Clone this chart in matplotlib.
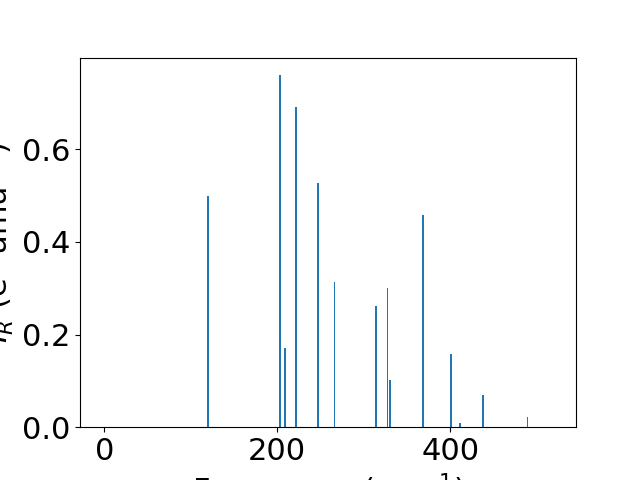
import matplotlib
matplotlib.use("Agg")
import matplotlib.pyplot as plt

freqs = [119.9, 202.7, 208.9, 221.2, 247.1, 266.1, 314.1, 327.4, 330.3, 368.4, 400.8, 411.2, 437.9, 489.2]
intensities = [0.499, 0.760, 0.171, 0.691, 0.527, 0.314, 0.261, 0.300, 0.101, 0.458, 0.158, 0.009, 0.069, 0.022]

plt.rcParams['font.size'] = 22
fig, ax = plt.subplots(figsize=(6.4, 4.8), dpi=100)
ax.bar(freqs, intensities, width=2.0, color='#1f77b4')
ax.set_xlim(-28.1, 545.3)
ax.set_xlabel(r'Frequency (cm$^{-1}$)')
ax.set_ylabel(r'$I_R$ (e$^2$ amu$^{-1}$)')
fig.savefig('out.png', dpi=100)
